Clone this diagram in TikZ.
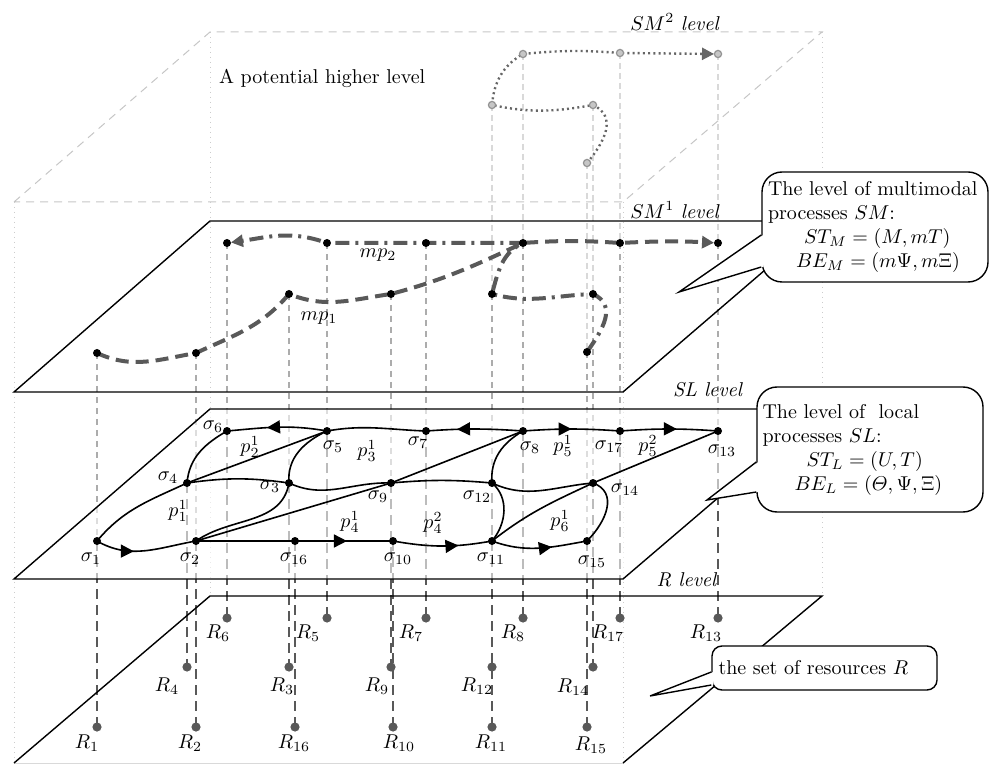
\documentclass[tikz,border=0pt]{standalone}
\usepackage{amsmath, amssymb}
\usepackage{tikz}
\usetikzlibrary{arrows.meta, decorations.markings}

\tikzset{
    plane/.style={black, line width=0.7pt},
    boxline/.style={gray!45, line width=0.5pt, dash pattern=on 4pt off 3pt},
    boxedge/.style={gray!40, line width=0.5pt, dotted},
    upline/.style={gray!30, line width=0.6pt, dash pattern=on 3pt off 2pt},
    midline/.style={gray!65, line width=0.6pt, dash pattern=on 3pt off 2.5pt},
    lowline/.style={black!65, line width=1.4pt, dash pattern=on 5pt off 3pt},
    link/.style={black, line width=0.8pt},
    midarrow/.style={postaction={decorate}, decoration={markings,
        mark=at position #1 with {\arrow{Triangle[length=6.5pt, width=6.5pt]}}}},
    mpone/.style={black!65, line width=2pt, dash pattern=on 6.5pt off 3.5pt},
    mptwo/.style={black!65, line width=2pt, dash pattern=on 7pt off 3pt on 1.5pt off 3pt},
    smtwo/.style={black!60, line width=1.2pt, dash pattern=on 1pt off 1.6pt},
    endtip/.style={-{Triangle[length=6pt, width=6pt]}, shorten >=2pt},
    sdot/.style={fill=black},
    rdot/.style={fill=black!65},
    udot/.style={fill=gray!45, draw=gray!85, line width=0.6pt},
    bubble/.style={draw, fill=white, line width=0.7pt, align=left, inner ysep=2pt},
}

\begin{document}
\begin{tikzpicture}[x=0.5pt, y=0.5pt]
    \useasboundingbox (0,0) rectangle (989,766);

    % points of the levels
    \coordinate (u1) at (587,603); \coordinate (u2) at (593,661); \coordinate (u3) at (492,661);
    \coordinate (u4) at (523,712); \coordinate (u5) at (620,713); \coordinate (u6) at (718,712);

    \coordinate (m1) at (97,413);  \coordinate (m2) at (196,413);  \coordinate (m3) at (289,472);
    \coordinate (m5) at (327,523); \coordinate (m6) at (227,523);  \coordinate (m7) at (426,523);
    \coordinate (m8) at (523,523); \coordinate (m9) at (391,472);  \coordinate (m12) at (492,472);
    \coordinate (m13) at (718,523); \coordinate (m14) at (593,472); \coordinate (m15) at (587,414);
    \coordinate (m17) at (620,523);

    \coordinate (s1) at (97,225);  \coordinate (s2) at (196,225);  \coordinate (s3) at (289,283);
    \coordinate (s4) at (187,283); \coordinate (s5) at (327,335);  \coordinate (s6) at (227,335);
    \coordinate (s7) at (426,335); \coordinate (s8) at (523,335);  \coordinate (s9) at (391,283);
    \coordinate (s10) at (393,225); \coordinate (s11) at (492,225); \coordinate (s12) at (492,283);
    \coordinate (s13) at (718,335); \coordinate (s14) at (593,283); \coordinate (s15) at (587,225);
    \coordinate (s16) at (295,225); \coordinate (s17) at (620,335);

    \coordinate (r1) at (97,39);   \coordinate (r2) at (196,39);   \coordinate (r3) at (289,99);
    \coordinate (r4) at (187,99);  \coordinate (r5) at (327,148);  \coordinate (r6) at (227,148);
    \coordinate (r7) at (426,148); \coordinate (r8) at (523,148);  \coordinate (r9) at (391,99);
    \coordinate (r10) at (393,39); \coordinate (r11) at (492,39);  \coordinate (r12) at (492,99);
    \coordinate (r13) at (718,148); \coordinate (r14) at (593,99); \coordinate (r15) at (587,39);
    \coordinate (r16) at (295,39); \coordinate (r17) at (620,148);

    % potential higher level box
    \draw[boxline] (14,564) -- (210,734) -- (822,734) -- (623,564) -- cycle;
    \draw[boxedge] (14,564) -- (14,3); \draw[boxedge] (210,734) -- (210,170);
    \draw[boxedge] (822,734) -- (822,170); \draw[boxedge] (623,564) -- (623,3);
    \draw[gray!30, line width=0.5pt] (14,3) -- (623,3);

    % projections
        % SM2 -> SM1
        \draw[upline] (u1) -- (m15); \draw[upline] (u2) -- (m14); \draw[upline] (u3) -- (m12);
        \draw[upline] (u4) -- (m8);  \draw[upline] (u5) -- (m17); \draw[upline] (u6) -- (m13);
        % SM1 -> SL
        \draw[midline] (m1) -- (s1);   \draw[midline] (m2) -- (s2);   \draw[midline] (m3) -- (s3);
        \draw[midline] (m5) -- (s5);   \draw[midline] (m6) -- (s6);   \draw[midline] (m7) -- (s7);
        \draw[midline] (m8) -- (s8);   \draw[midline] (m9) -- (s9);   \draw[midline] (m12) -- (s12);
        \draw[midline] (m13) -- (s13); \draw[midline] (m14) -- (s14); \draw[midline] (m15) -- (s15);
        \draw[midline] (m17) -- (s17);
        % SL -> R
        \draw[lowline] (s1) -- (r1);   \draw[lowline] (s2) -- (r2);   \draw[lowline] (s3) -- (r3);
        \draw[lowline] (s4) -- (r4);   \draw[lowline] (s5) -- (r5);   \draw[lowline] (s6) -- (r6);
        \draw[lowline] (s7) -- (r7);   \draw[lowline] (s8) -- (r8);   \draw[lowline] (s9) -- (r9);
        \draw[lowline] (s10) -- (r10); \draw[lowline] (s11) -- (r11);
        \draw[lowline, dash phase=3pt] (s12) -- (r12);
        \draw[lowline] (s13) -- (r13); \draw[lowline] (s14) -- (r14); \draw[lowline] (s15) -- (r15);
        \draw[lowline] (s16) -- (r16); \draw[lowline] (s17) -- (r17);

    % planes
    \draw[plane] (14,3) -- (210,170) -- (822,170) -- (623,3);
    \draw[plane, fill=white, fill opacity=0.6] (14,187) -- (623,187) -- (822,357) -- (210,357) -- cycle;
    \draw[plane] (14,374) -- (623,374) -- (822,545) -- (210,545) -- cycle;

    % level labels
    \node at (675,744) (lsm2) {$SM^2$ \textit{level}};
    \node at (675,556) (lsm1) {$SM^1$ \textit{level}};
    \node at (708,376) (lsl) {\textit{SL level}};
    \node at (687,186) (lr) {\textit{R level}};
    \node[anchor=west] at (212,688) (lhigh) {A potential higher level};

    % local processes
    \draw[link, midarrow=0.38] (s1) to[out=-30,in=190] (s2);
    \draw[link] (s1) to[out=50,in=205] (s4);
    \draw[link] (s4) to[out=85,in=210] (s6);
    \draw[link, midarrow=0.6] (s5) to[out=170,in=5] (s6);
    \draw[link] (s4) -- (s5);
    \draw[link] (s4) to[bend left=8] (s3);
    \draw[link] (s3) to[out=95,in=205] (s5);
    \draw[link] (s3) to[out=-100,in=35] (s2);
    \draw[link] (s3) to[out=-25,in=178] (s9);
    \draw[link] (s2) -- (s9) -- (s8);
    \draw[link] (s2) -- (s16);
    \draw[link, midarrow=0.53] (s16) -- (s10);
    \draw[link, midarrow=0.66] (s10) to[out=-10,in=190] (s11);
    \draw[link] (s9) to[bend left=5] (s12);
    \draw[link] (s5) to[out=10,in=178] (s7);
    \draw[link, midarrow=0.68] (s8) to[bend right=4] (s7);
    \draw[link, midarrow=0.5] (s8) to[bend left=4] (s17);
    \draw[link, midarrow=0.58] (s17) to[bend left=4] (s13);
    \draw[link] (s12) to[out=95,in=210] (s8);
    \draw[link] (s12) to[out=-25,in=185] (s14);
    \draw[link] (s12) to[out=-40,in=50] (s11);
    \draw[link] (s11) to[out=38,in=205] (s14);
    \draw[link] (s14) -- (s13);
    \draw[link] (s14) to[out=-20,in=45,looseness=1.2] (s15);
    \draw[link, midarrow=0.63] (s11) to[out=-20,in=190] (s15);

    % multimodal processes
    \draw[mpone, endtip] (m1) to[out=-25,in=190] (m2) to[out=25,in=230] (m3)
        to[out=-22,in=188] (m9) to[out=15,in=205] (m8) to[bend left=4] (m17) to[bend left=3] (m13);
    \draw[mptwo, endtip] (m15) to[out=55,in=-25,looseness=1.2] (m14) to[out=182,in=-15] (m12)
        to[out=75,in=205] (m8) -- (m7) -- (m5) to[out=160,in=8] (m6);
    \draw[smtwo, endtip] (u1) to[out=50,in=-25,looseness=1.2] (u2) to[out=190,in=-12] (u3)
        to[out=85,in=210] (u4) to[bend left=5] (u5) -- (u6);

    % dots
    \filldraw[udot] (u1) circle (1.8pt); \filldraw[udot] (u2) circle (1.8pt); \filldraw[udot] (u3) circle (1.8pt);
    \filldraw[udot] (u4) circle (1.8pt); \filldraw[udot] (u5) circle (1.8pt); \filldraw[udot] (u6) circle (1.8pt);
    \fill[sdot] (m1) circle (2pt); \fill[sdot] (m2) circle (2pt); \fill[sdot] (m3) circle (2pt);
    \fill[sdot] (m5) circle (2pt); \fill[sdot] (m6) circle (2pt); \fill[sdot] (m7) circle (2pt);
    \fill[sdot] (m8) circle (2pt); \fill[sdot] (m9) circle (2pt); \fill[sdot] (m12) circle (2pt);
    \fill[sdot] (m13) circle (2pt); \fill[sdot] (m14) circle (2pt); \fill[sdot] (m15) circle (2pt);
    \fill[sdot] (m17) circle (2pt);
    \fill[sdot] (s1) circle (2pt); \fill[sdot] (s2) circle (2pt); \fill[sdot] (s3) circle (2pt);
    \fill[sdot] (s4) circle (2pt); \fill[sdot] (s5) circle (2pt); \fill[sdot] (s6) circle (2pt);
    \fill[sdot] (s7) circle (2pt); \fill[sdot] (s8) circle (2pt); \fill[sdot] (s9) circle (2pt);
    \fill[sdot] (s10) circle (2pt); \fill[sdot] (s11) circle (2pt); \fill[sdot] (s12) circle (2pt);
    \fill[sdot] (s13) circle (2pt); \fill[sdot] (s14) circle (2pt); \fill[sdot] (s15) circle (2pt);
    \fill[sdot] (s16) circle (2pt); \fill[sdot] (s17) circle (2pt);
    \fill[rdot] (r1) circle (2.3pt); \fill[rdot] (r2) circle (2.3pt); \fill[rdot] (r3) circle (2.3pt);
    \fill[rdot] (r4) circle (2.3pt); \fill[rdot] (r5) circle (2.3pt); \fill[rdot] (r6) circle (2.3pt);
    \fill[rdot] (r7) circle (2.3pt); \fill[rdot] (r8) circle (2.3pt); \fill[rdot] (r9) circle (2.3pt);
    \fill[rdot] (r10) circle (2.3pt); \fill[rdot] (r11) circle (2.3pt); \fill[rdot] (r12) circle (2.3pt);
    \fill[rdot] (r13) circle (2.3pt); \fill[rdot] (r14) circle (2.3pt); \fill[rdot] (r15) circle (2.3pt);
    \fill[rdot] (r16) circle (2.3pt); \fill[rdot] (r17) circle (2.3pt);

    % sigma labels
    \node at (91,207) (ls1) {$\sigma_1$};    \node at (190,207) (ls2) {$\sigma_2$};
    \node at (294,207) (ls16) {$\sigma_{16}$}; \node at (398,207) (ls10) {$\sigma_{10}$};
    \node at (491,207) (ls11) {$\sigma_{11}$}; \node at (592,204) (ls15) {$\sigma_{15}$};
    \node at (168,288) (ls4) {$\sigma_4$};   \node at (270,279) (ls3) {$\sigma_3$};
    \node at (378,269) (ls9) {$\sigma_9$};   \node at (477,269) (ls12) {$\sigma_{12}$};
    \node at (625,276) (ls14) {$\sigma_{14}$};
    \node at (213,339) (ls6) {$\sigma_6$};   \node at (333,319) (ls5) {$\sigma_5$};
    \node at (418,323) (ls7) {$\sigma_7$};   \node at (530,318) (ls8) {$\sigma_8$};
    \node at (609,319) (ls17) {$\sigma_{17}$}; \node at (722,315) (ls13) {$\sigma_{13}$};

    % process labels
    \node at (178,255) (lp11) {$p_1^1$}; \node at (250,319) (lp21) {$p_2^1$};
    \node at (367,315) (lp31) {$p_3^1$}; \node at (350,244) (lp41) {$p_4^1$};
    \node at (433,243) (lp42) {$p_4^2$}; \node at (563,320) (lp51) {$p_5^1$};
    \node at (648,320) (lp52) {$p_5^2$}; \node at (560,245) (lp61) {$p_6^1$};
    \node at (378,511) (lmp2) {$mp_2$};  \node at (319,448) (lmp1) {$mp_1$};

    % resource labels
    \node at (87,23) (lr1) {$R_1$};     \node at (190,23) (lr2) {$R_2$};
    \node at (294,23) (lr16) {$R_{16}$}; \node at (399,23) (lr10) {$R_{10}$};
    \node at (491,23) (lr11) {$R_{11}$}; \node at (591,21) (lr15) {$R_{15}$};
    \node at (167,80) (lr4) {$R_4$};    \node at (282,80) (lr3) {$R_3$};
    \node at (377,80) (lr9) {$R_9$};    \node at (477,80) (lr12) {$R_{12}$};
    \node at (573,79) (lr14) {$R_{14}$};
    \node at (218,133) (lr6) {$R_6$};   \node at (308,133) (lr5) {$R_5$};
    \node at (411,133) (lr7) {$R_7$};   \node at (513,133) (lr8) {$R_8$};
    \node at (608,133) (lr17) {$R_{17}$}; \node at (706,133) (lr13) {$R_{13}$};

    % callouts
    \node[bubble, rounded corners=10pt, minimum width=113pt, minimum height=55pt,
        text width=107pt, inner xsep=3pt] at (875,539) (cSM)
        {The level of multimodal\\processes $SM$:\\\hspace*{18pt}$ST_M=(M,mT)$\\\hspace*{14pt}$BE_M=(m\Psi,m\Xi)$};
    \coordinate (tSM) at (679,474);
    \fill[white] ([xshift=1pt, yshift=-4pt]cSM.west) -- (tSM) -- ([xshift=1pt, yshift=-20pt]cSM.west) -- cycle;
    \draw[line width=0.7pt] ([yshift=-4pt]cSM.west) -- (tSM) -- ([yshift=-20pt]cSM.west);

    \node[bubble, rounded corners=10pt, minimum width=113pt, minimum height=62.5pt,
        text width=107.5pt, inner xsep=2.75pt] at (870,316.5) (cSL)
        {The level of\ \ local\\processes $SL$:\\\hspace*{22pt}$ST_L=(U,T)$\\\hspace*{16pt}$BE_L=(\varTheta,\Psi,\Xi)$};
    \coordinate (tSL) at (707,266);
    \fill[white] ([xshift=1pt, yshift=-6.25pt]cSL.west) -- (tSL) -- ([xshift=1pt, yshift=-21.25pt]cSL.west) -- cycle;
    \draw[line width=0.7pt] ([yshift=-6.25pt]cSL.west) -- (tSL) -- ([yshift=-21.25pt]cSL.west);

    \node[bubble, rounded corners=5pt, minimum width=112.5pt, minimum height=22pt,
        text width=106pt, inner xsep=3.25pt] at (824.5,98) (cR)
        {the set of resources $R$};
    \coordinate (tR) at (650,70);
    \fill[white] ([xshift=1pt, yshift=-2pt]cR.west) -- (tR) -- ([xshift=1pt, yshift=-8.5pt]cR.west) -- cycle;
    \draw[line width=0.7pt] ([yshift=-2pt]cR.west) -- (tR) -- ([yshift=-8.5pt]cR.west);

\end{tikzpicture}
\end{document}
